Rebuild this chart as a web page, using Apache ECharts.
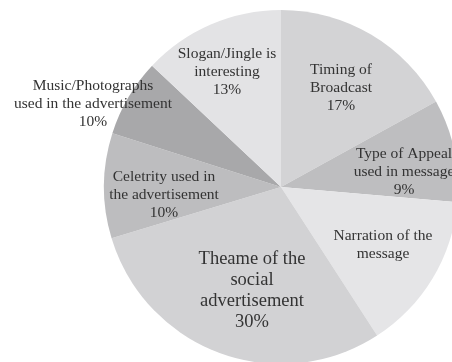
<!DOCTYPE html>
<html>
<head>
<meta charset="utf-8">
<script src="https://cdn.jsdelivr.net/npm/echarts@6/dist/echarts.min.js"></script>
<style>html,body{margin:0;padding:0;background:#fff;}#c{width:452px;height:362px;}</style>
</head>
<body>
<div id="c"></div>
<script>
// Categories in clockwise order starting at 12 o'clock
var categories = [
  "Timing of\nBroadcast",
  "Type of Appeal\nused in message",
  "Narration of the\nmessage",
  "Theame of the\nsocial\nadvertisement",
  "Celetrity used in\nthe advertisement",
  "Music/Photographs\nused in the advertisement",
  "Slogan/Jingle is\ninteresting"
];
// Slice sizes (angles)
var sliceValues = [17, 9.4, 14.5, 29.5, 9.6, 7.1, 13];
// Percent labels as printed on the picture ("" = none shown)
var pctLabels = ["17%", "9%", "", "30%", "10%", "10%", "13%"];
var sliceColors = ["#d3d3d5", "#bebec0", "#e5e5e7", "#d2d2d4", "#bdbdbf", "#a8a8aa", "#e3e3e5"];
var labelPos = [[341, 88], [404, 172], [383, 245], [252, 291], [164, 195], [93, 104], [227, 72]];

var chart = echarts.init(document.getElementById('c'));
var data = categories.map(function (c, i) {
  return {
    name: c,
    value: sliceValues[i],
    itemStyle: { color: sliceColors[i] },
    label: i === 3 ? { fontSize: 18.5, lineHeight: 21 } : {}
  };
});
chart.setOption({
  animation: false,
  series: [{
    type: 'pie',
    center: [281, 187],
    radius: 177,
    startAngle: 90,
    clockwise: true,
    data: data,
    itemStyle: { borderWidth: 0 },
    emphasis: { disabled: true },
    label: {
      show: true,
      position: 'inside',
      fontFamily: 'Liberation Serif',
      fontSize: 15.5,
      lineHeight: 18,
      color: '#333333',
      align: 'center',
      formatter: function (p) {
        var pct = pctLabels[p.dataIndex];
        return pct ? p.name + '\n' + pct : p.name;
      }
    },
    labelLine: { show: false },
    labelLayout: function (params) {
      var pos = labelPos[params.dataIndex];
      return { x: pos[0], y: pos[1], align: 'center', verticalAlign: 'middle' };
    }
  }]
});
</script>
</body>
</html>
